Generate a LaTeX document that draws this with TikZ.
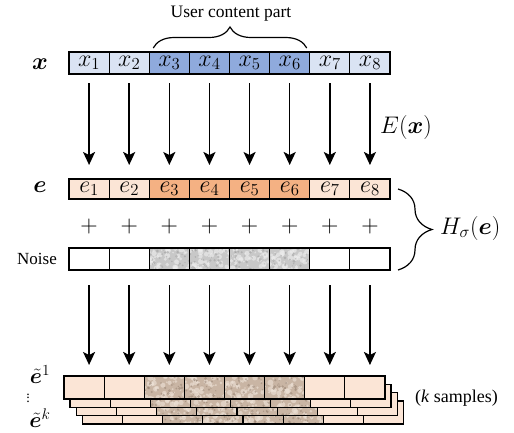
\documentclass[tikz,border=0pt]{standalone}
\IfFileExists{fix-cm.sty}{\usepackage{fix-cm}}{}
\usepackage{fontspec}
\setmainfont{Liberation Serif}
\usepackage{bm}
\usetikzlibrary{arrows.meta,decorations.pathreplacing}
\definecolor{xlight}{HTML}{DAE3F3}
\definecolor{xdark}{HTML}{8FAADC}
\definecolor{elight}{HTML}{FBE5D6}
\definecolor{edark}{HTML}{F4B183}
\definecolor{nbase}{HTML}{C8C8C8}
\definecolor{nlight}{HTML}{EFEFEF}
\definecolor{ndark}{HTML}{9A9A9A}
\definecolor{sbase}{HTML}{C9B5A4}
\definecolor{slight}{HTML}{EEE3D8}
\definecolor{sdark}{HTML}{927E6E}
\newcommand{\texturecell}[7]{%
  \begin{scope}
    \pgfmathsetmacro\tca{#1}\pgfmathsetmacro\tcb{#2}%
    \pgfmathsetmacro\tcc{#3}\pgfmathsetmacro\tcd{#4}%
    \clip (\tca,\tcb) rectangle (\tcc,\tcd);
    \fill[#5] (\tca,\tcb) rectangle (\tcc,\tcd);
    \foreach \k in {1,...,40}{
      \pgfmathsetmacro\rx{\tca+rnd*(\tcc-\tca)}
      \pgfmathsetmacro\ry{\tcb+rnd*(\tcd-\tcb)}
      \pgfmathsetmacro\rr{0.8+2.2*rnd}
      \fill[#6, opacity=0.6] (\rx,\ry) circle (\rr pt);
    }
    \foreach \k in {1,...,30}{
      \pgfmathsetmacro\rx{\tca+rnd*(\tcc-\tca)}
      \pgfmathsetmacro\ry{\tcb+rnd*(\tcd-\tcb)}
      \pgfmathsetmacro\rr{0.5+1.1*rnd}
      \fill[#7, opacity=0.5] (\rx,\ry) circle (\rr pt);
    }
  \end{scope}}
\newcommand{\mydots}{\vbox{\baselineskip3.6pt\lineskiplimit0pt\hbox{.}\hbox{.}\hbox{.}}}
\begin{document}
\begin{tikzpicture}[x=1pt,y=-1pt,
  cellbox/.style={draw=black, line width=1.2pt, minimum width=40.125pt, inner sep=0pt, outer sep=0pt, font=\fontsize{24}{26}\selectfont},
  xcellst/.style={cellbox, minimum height=22pt},
  ecellst/.style={cellbox, minimum height=20pt},
  ncellst/.style={cellbox, minimum height=22pt},
  scellst/.style={cellbox, minimum height=23pt},
  arr/.style={line width=1.6pt, -{Stealth[length=13pt,width=12pt,inset=3pt]}},
  bracest/.style={decorate, line width=1.2pt},
  lbl/.style={inner sep=0pt}
]
\useasboundingbox (0,0) rectangle (514,432);
\pgfmathsetseed{7}

% x row
\foreach \i/\c in {1/xlight,2/xlight,3/xdark,4/xdark,5/xdark,6/xdark,7/xlight,8/xlight}
  \node[xcellst, fill=\c] (x\i) at ({69+40.125*(\i-0.5)},63) {$x_{\i}$};

% e row
\foreach \i/\c in {1/elight,2/elight,3/edark,4/edark,5/edark,6/edark,7/elight,8/elight}
  \node[ecellst, fill=\c] (e\i) at ({69+40.125*(\i-0.5)},189) {$e_{\i}$};

% plus signs
\foreach \i in {1,...,8}
  \node[lbl, font=\fontsize{24}{26}\selectfont] (p\i) at ({69+40.125*(\i-0.5)},226) {$+$};

% noise row textures
\foreach \i in {3,...,6}{
  \texturecell{69+40.125*(\i-1)}{248}{69+40.125*\i}{270}{nbase}{nlight}{ndark}
}
\foreach \i in {1,...,8}
  \node[ncellst] (n\i) at ({69+40.125*(\i-0.5)},259) {};

% sample stack (back layers)
\foreach \dx/\dy in {18.5/25, 12.5/16.6, 6/8.3}{
  \foreach \i in {1,...,8}{
    \pgfmathsetmacro\xa{64+\dx+40.125*(\i-1)}
    \pgfmathsetmacro\xb{64+\dx+40.125*\i}
    \pgfmathsetmacro\ya{376+\dy}
    \pgfmathsetmacro\yb{399+\dy}
    \ifnum\i>2 \ifnum\i<7
      \texturecell{\xa}{\ya}{\xb}{\yb}{sbase}{slight}{sdark}
    \else
      \fill[elight] (\xa,\ya) rectangle (\xb,\yb);
    \fi \else
      \fill[elight] (\xa,\ya) rectangle (\xb,\yb);
    \fi
    \draw[line width=1.2pt] (\xa,\ya) rectangle (\xb,\yb);
  }
}
% front layer
\foreach \i in {3,...,6}{
  \texturecell{64+40.125*(\i-1)}{376}{64+40.125*\i}{399}{sbase}{slight}{sdark}
}
\fill[elight] (64,376) rectangle ({64+80.25},399);
\fill[elight] ({64+240.75},376) rectangle (385,399);
\foreach \i in {1,...,8}
  \node[scellst] (s\i) at ({64+40.125*(\i-0.5)},387.5) {};

% arrows
\foreach \i in {1,...,8}{
  \draw[arr, shorten <=9pt, shorten >=14pt] (x\i) -- (e\i);
  \draw[arr, shorten <=15pt, shorten >=11pt] (n\i.south) -- (n\i.south |- s\i.north);
}

% braces
\draw[bracest, decoration={brace, amplitude=21pt}] ([shift={(4,-4)}]x3.north west) -- ([shift={(-3,-4)}]x6.north east);
\draw[bracest, decoration={brace, amplitude=34pt}] ([xshift=8pt]e8.east) -- ([xshift=8pt]n8.south east);

% labels
\node[lbl, font=\fontsize{17.5}{20}\selectfont] (ucp) at (231,14) {User content part};
\node[lbl, font=\fontsize{24}{26}\selectfont] (xl) at (40,64) {$\bm{x}$};
\node[lbl, font=\fontsize{24}{26}\selectfont] (el) at (40,187) {$\bm{e}$};
\node[lbl, anchor=east, font=\fontsize{17}{20}\selectfont] (nl) at (57,259) {Noise};
\node[lbl, anchor=west, font=\fontsize{24}{26}\selectfont] (Ex) at (380,127) {$E(\bm{x})$};
\node[lbl, anchor=west, font=\fontsize{24}{26}\selectfont] (H) at (440,228) {$H_\sigma(\bm{e})$};
\node[lbl, font=\fontsize{22}{24}\selectfont] (t1) at (40,375) {$\tilde{\bm{e}}^{1}$};
\node[lbl, font=\fontsize{14}{14}\selectfont] (vd) at (28,398) {\mydots};
\node[lbl, font=\fontsize{22}{24}\selectfont] (tk) at (40,418) {$\tilde{\bm{e}}^{k}$};
\node[lbl, anchor=west, font=\fontsize{18}{20}\selectfont] (ks) at (415,398) {(\textit{k} samples)};
\end{tikzpicture}
\end{document}
